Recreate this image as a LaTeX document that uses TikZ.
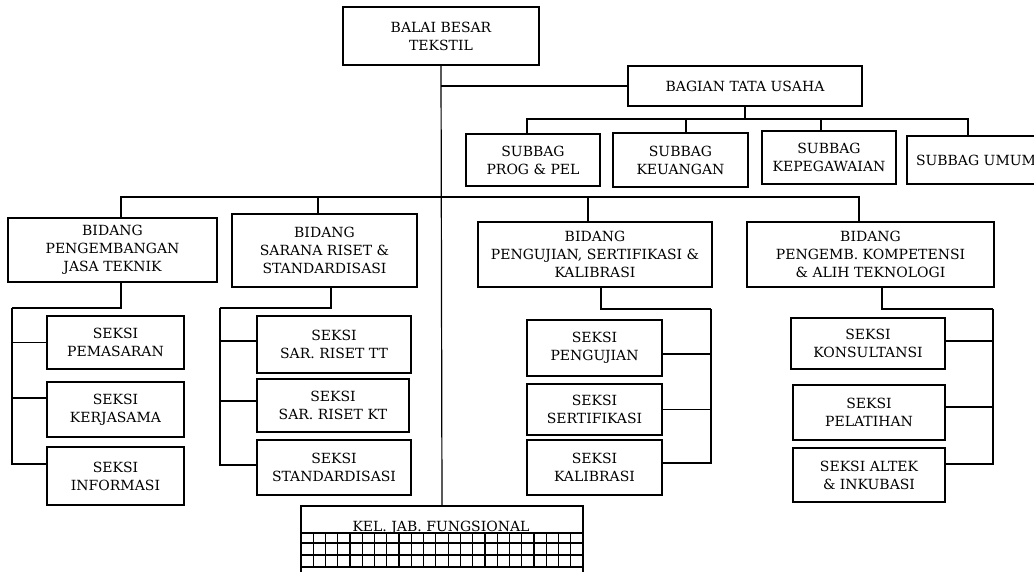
\documentclass[tikz,border=0pt]{standalone}
\usepackage{fontspec}
\setmainfont{DejaVu Serif}

\begin{document}
\begin{tikzpicture}[x=1pt, y=-1pt, line width=1.2pt,
	kotak/.style 2 args={draw, align=center, inner sep=0pt, minimum width=#1, minimum height=#2, font=\fontsize{14}{18}\selectfont}]
\useasboundingbox (0,0) rectangle (1034,572);

% pimpinan dan tata usaha
\node [kotak={196}{58}] (a) at (441,36) {BALAI BESAR\\TEKSTIL};
\node [kotak={234}{40}] (b) at (745,86) {BAGIAN TATA USAHA};
\node [kotak={134}{52}] (c) at (533,160) {SUBBAG\\PROG \& PEL};
\node [kotak={135}{54}] (d) at (680.5,160) {SUBBAG\\KEUANGAN};
\node [kotak={134}{53}] (e) at (829,157.5) {SUBBAG\\KEPEGAWAIAN};
\node [kotak={138}{48}] (f) at (976,160) {SUBBAG UMUM};

% bidang
\node [kotak={209}{64}] (g) at (112.5,250) {BIDANG\\PENGEMBANGAN\\JASA TEKNIK};
\node [kotak={185}{73}] (h) at (324.5,250.5) {BIDANG\\SARANA RISET \&\\STANDARDISASI};
\node [kotak={234}{65}] (i) at (595,254.5) {BIDANG\\PENGUJIAN, SERTIFIKASI \&\\KALIBRASI};
\node [kotak={247}{65}] (j) at (870.5,254.5) {BIDANG\\PENGEMB. KOMPETENSI\\\& ALIH TEKNOLOGI};

% seksi
\node [kotak={137}{53}] (l) at (115.5,342.5) {SEKSI\\PEMASARAN};
\node [kotak={137}{55}] (m) at (115.5,409.5) {SEKSI\\KERJASAMA};
\node [kotak={137}{58}] (n) at (115.5,476) {SEKSI\\INFORMASI};
\node [kotak={154}{57}] (o) at (334,344.5) {SEKSI\\SAR. RISET TT};
\node [kotak={152}{53}] (p) at (333,405.5) {SEKSI\\SAR. RISET KT};
\node [kotak={154}{55}] (q) at (334,467.5) {SEKSI\\STANDARDISASI};
\node [kotak={135}{56}] (r) at (594.5,348) {SEKSI\\PENGUJIAN};
\node [kotak={135}{51}] (s) at (594.5,409.5) {SEKSI\\SERTIFIKASI};
\node [kotak={135}{55}] (t) at (594.5,467.5) {SEKSI\\KALIBRASI};
\node [kotak={154}{51}] (u) at (868,343.5) {SEKSI\\KONSULTANSI};
\node [kotak={152}{55}] (v) at (869,412.5) {SEKSI\\PELATIHAN};
\node [kotak={152}{54}] (w) at (869,475) {SEKSI ALTEK\\\& INKUBASI};

% jabatan fungsional
\node [kotak={282}{74}] (k) at (442,543) {};
\node [anchor=base, font=\fontsize{14}{18}\selectfont] (kt) at (441,531) {KEL. JAB. FUNGSIONAL};
\foreach \y in {533,543,555,567}
	\draw (k.west |- 0,\y) -- (k.east |- 0,\y);
\foreach \i in {1,...,22}
	\draw ({301+\i*282/23},533) -- ++(0,34);

% garis komando
\coordinate (sb) at (745,119);
\coordinate (bb) at (441,197);
\draw (a.south) -- (k.north);
\draw (a.south |- b.west) -- (b.west);
\draw (b.south) -- (sb);
\draw ([xshift=-6pt]c.north) |- (sb) -| ([xshift=-8pt]f.north);
\draw ([xshift=5.5pt]d.north) -- ([xshift=5.5pt]d.north |- sb);
\draw ([xshift=-8pt]e.north) -- ([xshift=-8pt]e.north |- sb);
\draw ([xshift=8.5pt]g.north) |- (bb) -| ([xshift=-11.5pt]j.north);
\draw ([xshift=-6.5pt]h.north) -- ([xshift=-6.5pt]h.north |- bb);
\draw ([xshift=-7pt]i.north) -- ([xshift=-7pt]i.north |- bb);

% seksi ke bidang
\coordinate (g1) at (12,308);
\coordinate (h1) at (220,308);
\coordinate (i1) at (711,309);
\coordinate (j1) at (993,309);
\draw ([xshift=8.5pt]g.south) |- (g1);
\draw ([xshift=6.5pt]h.south) |- (h1);
\draw ([xshift=6pt]i.south) |- (i1);
\draw ([xshift=11.5pt]j.south) |- (j1);
\foreach \s/\d in {l/0, m/11.5, n/12}
	\draw ([yshift=\d pt]\s.west) -| (g1);
\foreach \s/\d in {o/3.5, p/4.5, q/2.5}
	\draw ([yshift=\d pt]\s.west) -| (h1);
\foreach \s/\d in {r/-6, s/0, t/4.5}
	\draw ([yshift=\d pt]\s.east) -| (i1);
\foreach \s/\d in {u/2.5, v/5.5, w/11}
	\draw ([yshift=\d pt]\s.east) -| (j1);
\end{tikzpicture}
\end{document}
